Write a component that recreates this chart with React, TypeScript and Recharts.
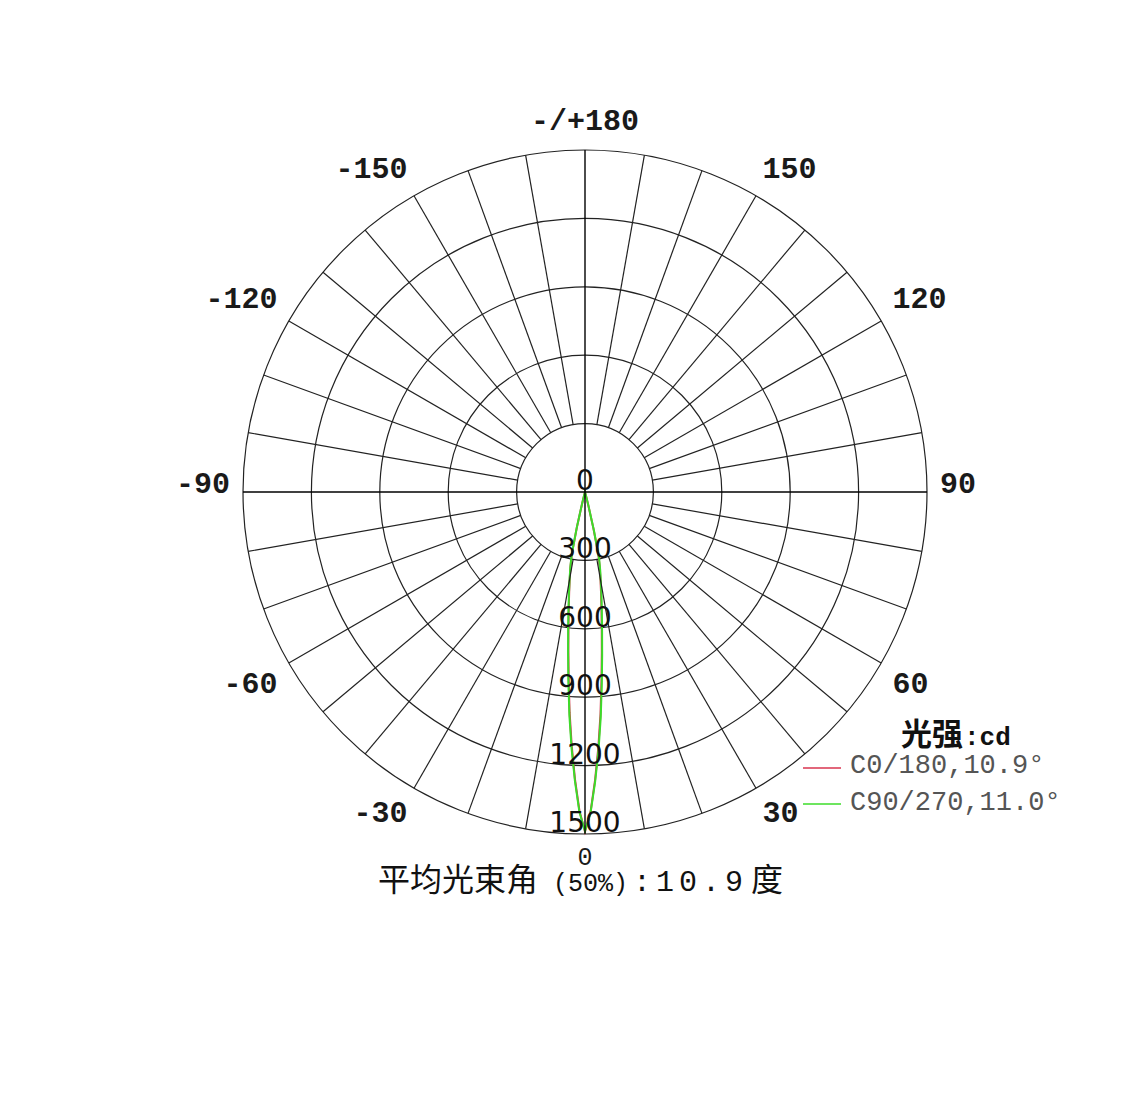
import { Legend, PolarAngleAxis, PolarGrid, PolarRadiusAxis, Radar, RadarChart } from 'recharts';

// chart geometry (page pixels)
const CX = 585;
const CY = 492;
const OUTER_R = 342;
const MAX_CD = 1500;

const MONO = '"Liberation Mono", "Courier New", monospace';
const SANS = '"DejaVu Sans", Verdana, sans-serif';
const CJK = '"Noto Sans CJK SC", "Noto Sans", sans-serif';

// measured angles (deg) and luminous intensity (cd) per plane
const angles = [
  -18, -17, -16, -15, -14, -13, -12, -11, -10, -9, -8, -7, -6, -5, -4, -3, -2, -1, 0,
  1, 2, 3, 4, 5, 6, 7, 8, 9, 10, 11, 12, 13, 14, 15, 16, 17, 18,
];
const c0_180 = [
  0, 0, 3, 11, 52, 155, 278, 334, 384, 443, 512, 596, 698, 822, 968, 1114, 1260, 1398, 1490,
  1402, 1264, 1120, 975, 830, 706, 603, 519, 450, 391, 341, 286, 165, 58, 13, 3, 0, 0,
];
const c90_270 = [
  0, 0, 3, 13, 55, 160, 282, 338, 390, 450, 520, 606, 710, 836, 982, 1126, 1268, 1404, 1487,
  1406, 1272, 1134, 990, 845, 720, 615, 530, 460, 400, 350, 296, 178, 64, 16, 4, 0, 0,
];

const seriesNames = ['C0/180,10.9°', 'C90/270,11.0°'];
const seriesColors = ['#d8354f', '#3cdc2a'];

// grid spokes every 10 deg, labels every 30 deg
const angleTicks = [
  -180, -170, -160, -150, -140, -130, -120, -110, -100, -90, -80, -70, -60, -50, -40, -30, -20, -10,
  0, 10, 20, 30, 40, 50, 60, 70, 80, 90, 100, 110, 120, 130, 140, 150, 160, 170,
];
const labelledAngles = [-180, -150, -120, -90, -60, -30, 0, 30, 60, 90, 120, 150];
const angleLabels = ['-/+180', '-150', '-120', '-90', '-60', '-30', '0', '30', '60', '90', '120', '150'];

const radiusTicks = [0, 300, 600, 900, 1200, 1500];

const data = angles.map((angle, i) => ({
  angle,
  c0: c0_180[i],
  c90: c90_270[i],
}));

const AngleTick = (props: any) => {
  const { x, y, payload } = props;
  const dx = x - CX;
  const dy = y - CY;
  const len = Math.hypot(dx, dy) || 1;
  const ux = dx / len;
  const uy = dy / len;
  const main = payload.value % 90 === 0;
  const r0 = main ? 0 : (OUTER_R * radiusTicks[1]) / MAX_CD;
  const idx = labelledAngles.indexOf(payload.value);
  const lx = CX + ux * 355;
  const ly = CY + uy * 355;
  const anchor = ux > 0.05 ? 'start' : ux < -0.05 ? 'end' : 'middle';
  const base = uy < -0.1 ? ly - 7 : uy > 0.1 ? ly + 23 : ly + 1;
  // the 0 at the bottom is drawn lighter in the original
  const bottom = payload.value === 0;
  return (
    <g>
      <line
        x1={CX + ux * r0}
        y1={CY + uy * r0}
        x2={CX + ux * OUTER_R}
        y2={CY + uy * OUTER_R}
        stroke={main ? '#000' : '#222'}
        strokeWidth={main ? 1.4 : 1.2}
      />
      {idx >= 0 && (
        <text
          x={lx}
          y={bottom ? base - 5 : base}
          textAnchor={anchor}
          fontFamily={MONO}
          fontWeight={bottom ? 'normal' : 'bold'}
          fontSize={bottom ? 25 : 30}
          fill='#1a1a1a'
        >
          {angleLabels[idx]}
        </text>
      )}
    </g>
  );
};

const RadiusTick = (props: any) => {
  const { x, y, payload } = props;
  return (
    <text x={x} y={y - 2} textAnchor='middle' fontFamily={SANS} fontSize={28} fill='#111'>
      {payload.value}
    </text>
  );
};

const LegendBox = (props: any) => {
  const payload = props.payload || [];
  return (
    <svg width={330} height={115} style={{ display: 'block' }}>
      <text x={101} y={40} fill='#111' fontWeight='bold'>
        <tspan fontFamily={CJK} fontSize={31}>光强</tspan>
        <tspan fontFamily={MONO} fontSize={26} dx={1}>:cd</tspan>
      </text>
      {payload.map((p: any, i: number) => (
        <g key={p.value}>
          <line x1={3} x2={41} y1={63 + i * 36} y2={63 + i * 36} stroke={p.color} strokeWidth={1.5} />
          <text x={50} y={68 + i * 37} fontFamily={MONO} fontSize={27} fill='#555'>
            {p.value}
          </text>
        </g>
      ))}
    </svg>
  );
};

export default function App() {
  return (
    <div style={{ position: 'absolute', left: 0, top: 0, width: 1132, height: 1100, background: '#fff' }}>
      <RadarChart
        width={1132}
        height={1100}
        data={data}
        cx={CX}
        cy={CY}
        outerRadius={OUTER_R}
        startAngle={-270}
        endAngle={90}
        margin={{ top: 0, right: 0, bottom: 0, left: 0 }}
      >
        <PolarGrid gridType='circle' radialLines={false} stroke='#222' strokeWidth={1.2} />
        <PolarAngleAxis
          dataKey='angle'
          type='number'
          domain={[-180, 180]}
          ticks={angleTicks}
          tick={<AngleTick />}
          tickLine={false}
          axisLine={false}
        />
        <PolarRadiusAxis
          angle={-90}
          domain={[0, MAX_CD]}
          ticks={radiusTicks}
          tick={<RadiusTick />}
          tickLine={false}
          axisLine={false}
        />
        <Radar
          name={seriesNames[0]}
          dataKey='c0'
          stroke={seriesColors[0]}
          strokeWidth={2}
          fill='none'
          isAnimationActive={false}
        />
        <Radar
          name={seriesNames[1]}
          dataKey='c90'
          stroke={seriesColors[1]}
          strokeWidth={2}
          fill='none'
          isAnimationActive={false}
        />
        <Legend
          content={<LegendBox />}
          wrapperStyle={{ position: 'absolute', left: 800, top: 705, width: 330, height: 115 }}
        />
        <text x={378} y={891} fill='#111'>
          <tspan fontFamily={CJK} fontSize={32}>平均光束角</tspan>
          <tspan fontFamily={MONO} fontSize={25} dx={15}>(50%)</tspan>
          <tspan fontFamily={MONO} fontSize={30} dx={5} letterSpacing={5}>:10.9</tspan>
          <tspan fontFamily={CJK} fontSize={32} dx={3}>度</tspan>
        </text>
      </RadarChart>
    </div>
  );
}
